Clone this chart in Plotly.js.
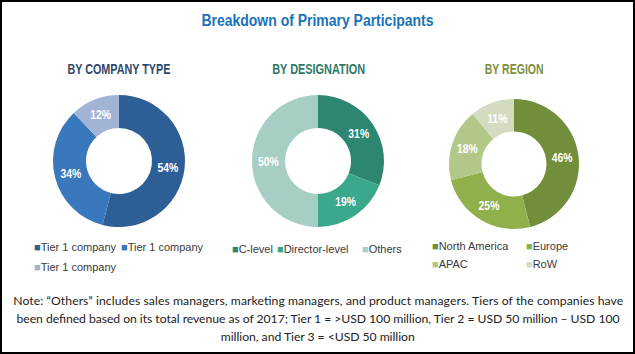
<!DOCTYPE html>
<html>
<head>
<meta charset="utf-8">
<script src="https://cdn.plot.ly/plotly-3.0.1.min.js"></script>
<style>html,body{margin:0;padding:0;background:#fff;}#chart{width:635px;height:354px;}</style>
</head>
<body>
<div id="chart"></div>
<script>
// ---- data ----
const companyLabels = ["Tier 1 company", "Tier 1 company", "Tier 1 company"];
const companyValues = [54, 34, 12];
const designationLabels = ["C-level", "Director-level", "Others"];
const designationValues = [31, 19, 50];
const regionLabels = ["North America", "Europe", "APAC", "RoW"];
const regionValues = [46, 25, 18, 11];
const chartTitles = ["BY COMPANY TYPE", "BY DESIGNATION", "BY REGION"];
const mainTitle = "Breakdown of Primary Participants";
const noteLines = [
  "Note: \u201cOthers\u201d includes sales managers, marketing managers, and product managers. Tiers of the companies have",
  "been defined based on its total revenue as of 2017; Tier 1 = >USD 100 million, Tier 2 = USD 50 million \u2013 USD 100",
  "million, and Tier 3 = <USD 50 million"
];

// ---- styles / layout ----
const W = 635, H = 354;
const px = x => x / W;
const py = y => 1 - y / H;
const companyColors = ["#2e5e96", "#3a78bd", "#a2b4d3"];
const designationColors = ["#2d8770", "#3aa88c", "#a6cec5"];
const regionColors = ["#728e3a", "#8fb04a", "#b1c888", "#d3dcc0"];
const titleColors = ["#2d4a6b", "#2e7a6a", "#7f8e3e"];
const SANS = "Liberation Sans, Arial, sans-serif";
const subtitleWidths = [103, 93, 59];
const noteWidths = [610, 603, 194];

const charts = [
  {labels: companyLabels, values: companyValues, colors: companyColors, cx: 119, cy: 161, r: 66,
   legendPos: [[34, 247], [121, 247], [34, 267]]},
  {labels: designationLabels, values: designationValues, colors: designationColors, cx: 318, cy: 161, r: 66,
   legendPos: [[232, 249], [277, 249], [362, 249]]},
  {labels: regionLabels, values: regionValues, colors: regionColors, cx: 514, cy: 164, r: 65,
   legendPos: [[432, 246], [526, 246], [432, 264], [526, 264]]}
];

const traces = charts.map(c => ({
  type: "pie",
  labels: c.labels.map((l, i) => l + "\u200b".repeat(i)),
  values: c.values,
  sort: false,
  direction: "clockwise",
  rotation: 0,
  hole: 0.5,
  marker: {colors: c.colors, line: {width: 0}},
  texttemplate: "%{value}%",
  textposition: "inside",
  insidetextorientation: "horizontal",
  insidetextfont: {family: SANS, size: 13, color: "#ffffff", weight: "bold"},
  domain: {x: [px(c.cx - c.r), px(c.cx + c.r)], y: [py(c.cy + c.r), py(c.cy - c.r)]},
  showlegend: false,
  hoverinfo: "label+percent"
}));

const annotations = [];
const fitTargets = []; // [annotation index, width, mode]
charts.forEach((c, k) => {
  fitTargets.push([annotations.length, subtitleWidths[k], "spacingAndGlyphs"]);
  annotations.push({
    xref: "paper", yref: "paper", x: px(c.cx), y: py(69), xanchor: "center", yanchor: "middle",
    showarrow: false, text: chartTitles[k],
    font: {family: SANS, size: 14, color: titleColors[k], weight: "bold"}
  });
  c.labels.forEach((l, i) => {
    const p = c.legendPos[i];
    annotations.push({
      xref: "paper", yref: "paper", x: px(p[0] - 2), y: py(p[1]), xanchor: "left", yanchor: "middle",
      showarrow: false,
      text: '<span style="color:' + c.colors[i] + '">\u25A0</span>' + l,
      font: {family: SANS, size: 11, color: "#3a3a3a"}
    });
  });
});
const noteY = [300, 318, 336];
noteLines.forEach((t, i) => {
  fitTargets.push([annotations.length, noteWidths[i], "spacing"]);
  annotations.push({
    xref: "paper", yref: "paper", x: 0.5, y: py(noteY[i]), xanchor: "center", yanchor: "middle",
    showarrow: false, text: t,
    font: {family: "Lato, Carlito, Calibri, sans-serif", size: 12.2, color: "#222222"}
  });
});

const layout = {
  width: W, height: H,
  margin: {l: 0, r: 0, t: 0, b: 0},
  paper_bgcolor: "#ffffff",
  title: {text: mainTitle, x: 0.5, xanchor: "center", y: py(20), yanchor: "middle",
          font: {family: SANS, size: 16, color: "#1a72b9", weight: "bold"}},
  annotations: annotations,
  shapes: [{type: "rect", xref: "paper", yref: "paper", x0: px(1), x1: px(634), y0: py(353), y1: py(1),
            line: {color: "#000000", width: 2}}]
};

Plotly.newPlot("chart", traces, layout, {displayModeBar: false, staticPlot: true}).then(gd => {
  // emulate the condensed typeface of the original
  const fit = (el, w, mode) => { if (el) { el.setAttribute("textLength", w); el.setAttribute("lengthAdjust", mode); } };
  fit(gd.querySelector(".gtitle"), 232, "spacingAndGlyphs");
  fitTargets.forEach(([idx, w, mode]) => {
    fit(gd.querySelector('.annotation[data-index="' + idx + '"] .annotation-text'), w, mode);
  });
  gd.querySelectorAll(".slicetext").forEach(el => {
    const w = el.getComputedTextLength ? el.getComputedTextLength() : 0;
    if (w) fit(el, w * 0.8, "spacingAndGlyphs");
  });
});
</script>
</body>
</html>
